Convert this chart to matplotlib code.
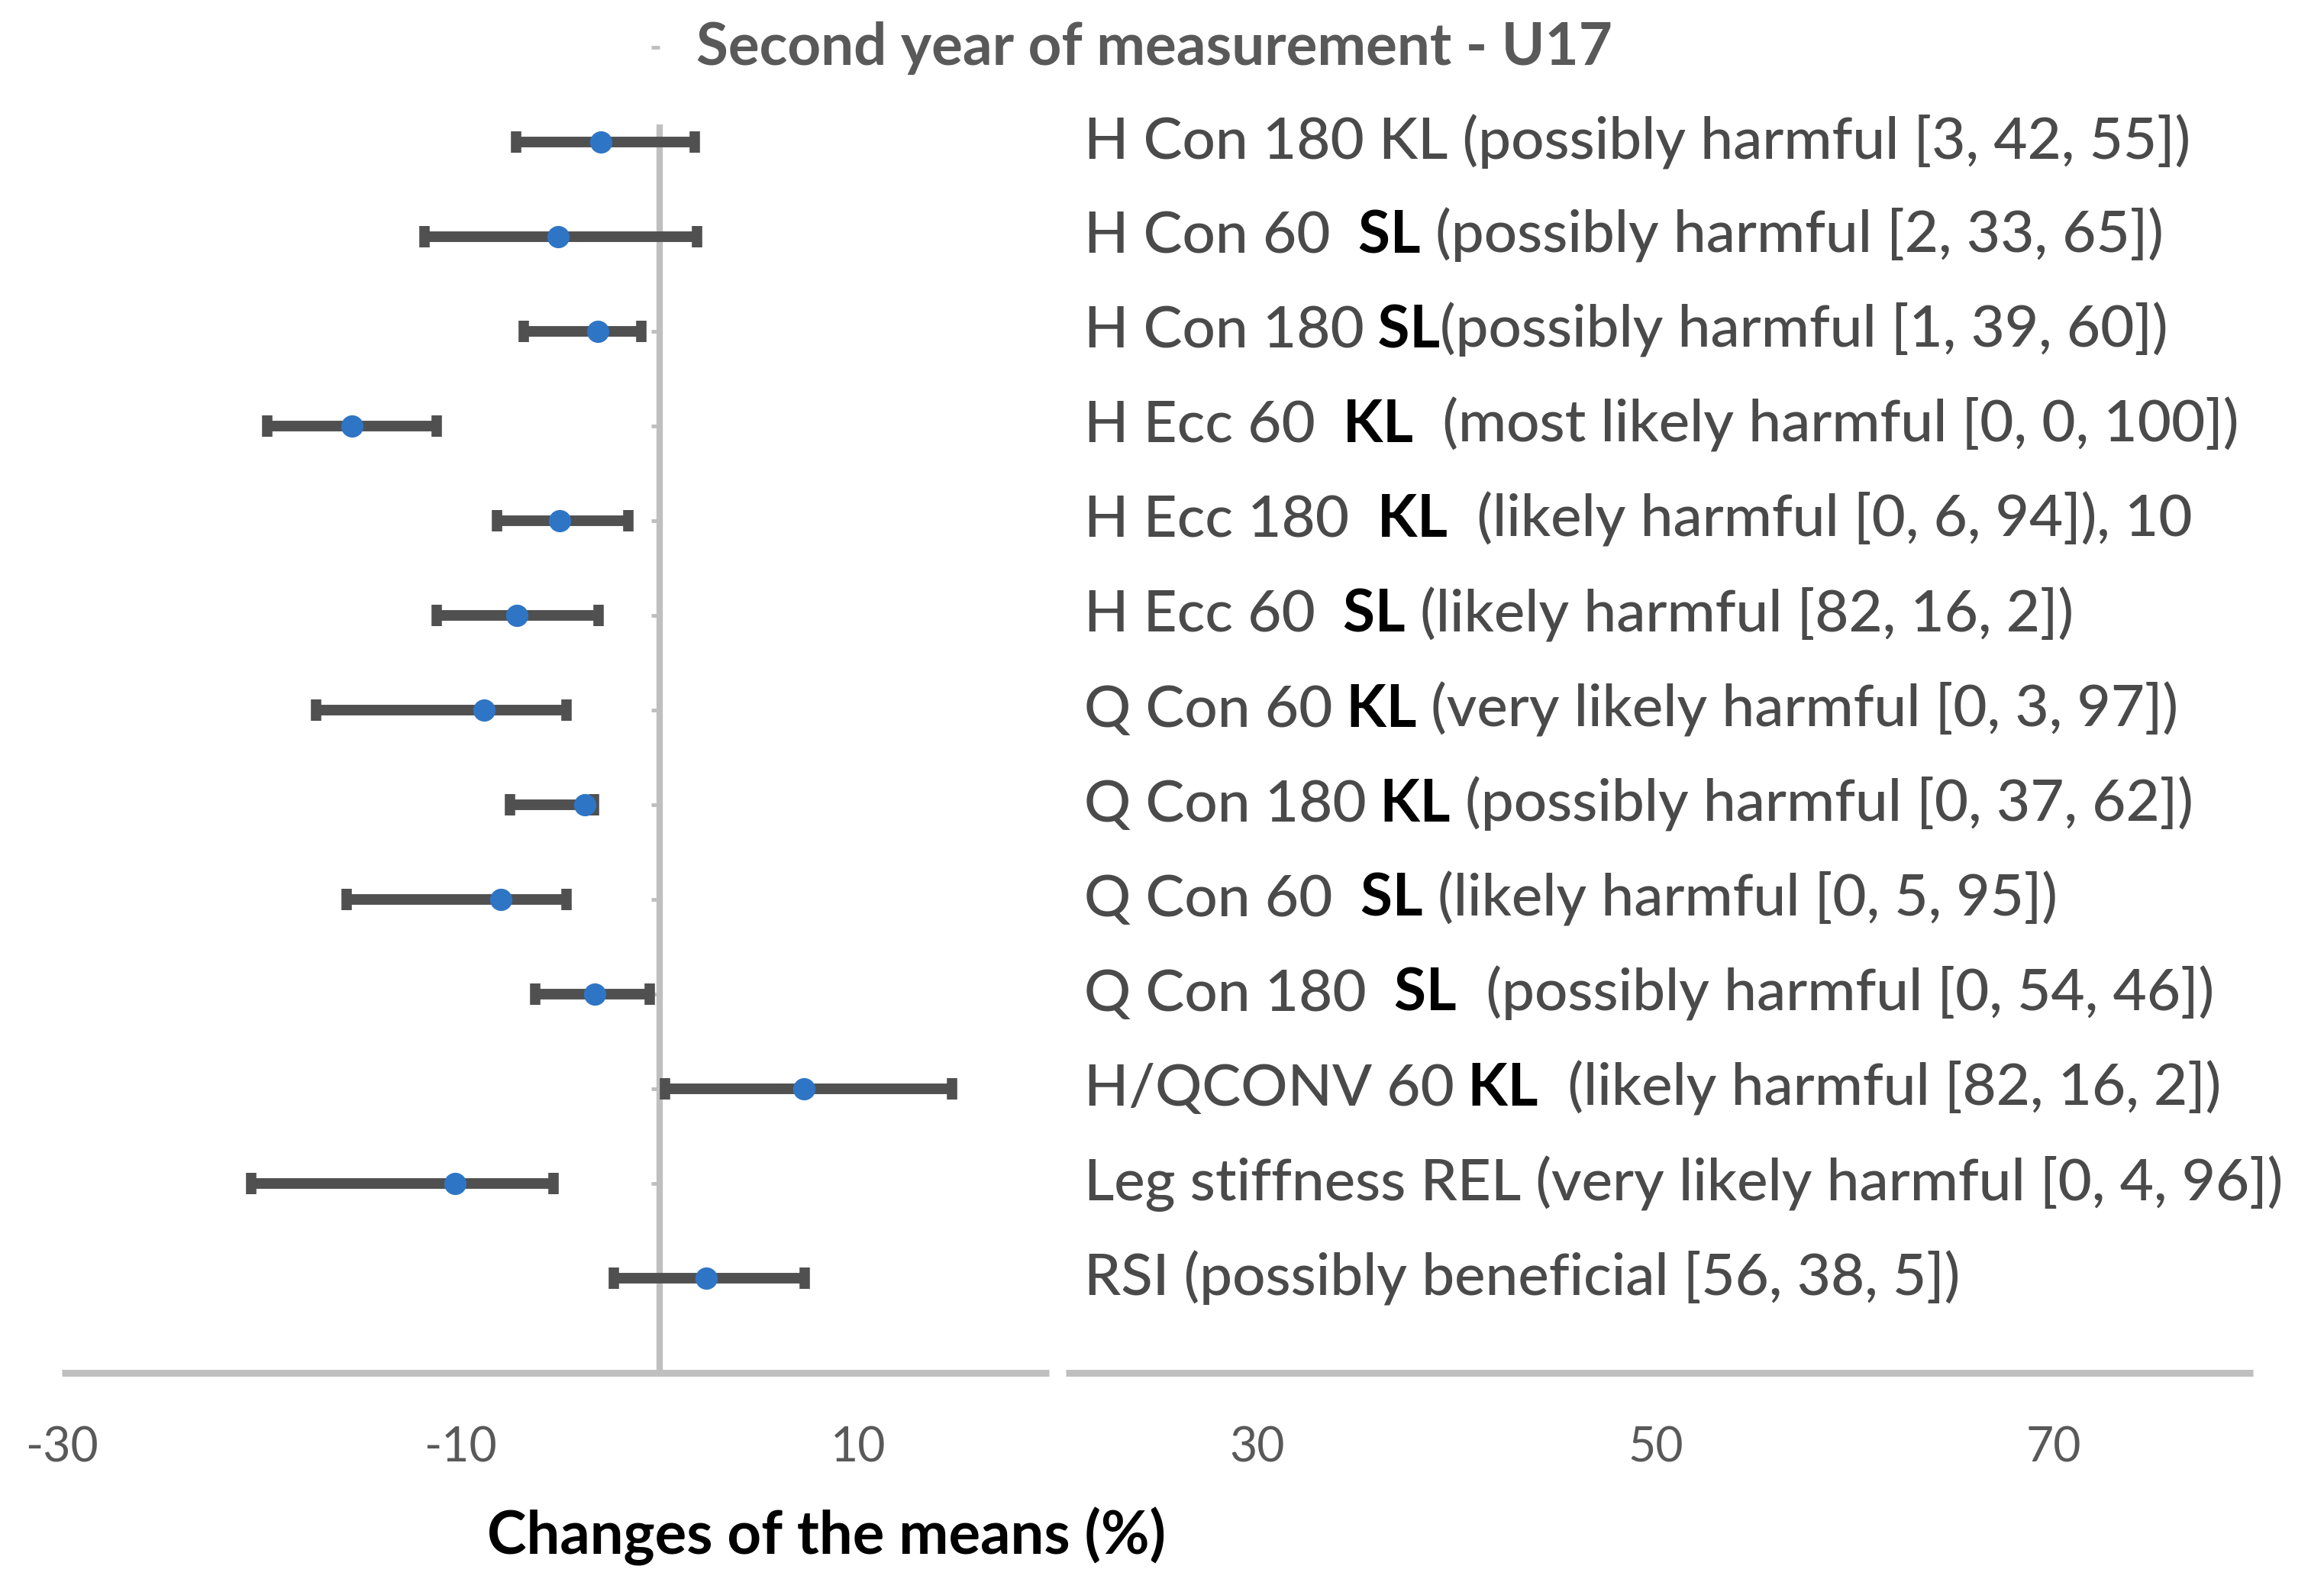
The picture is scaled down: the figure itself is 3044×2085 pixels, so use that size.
import matplotlib
matplotlib.use('Agg')
import matplotlib.pyplot as plt
import numpy as np

# data (changes of the means, %)
means = [-2.95, -5.1, -3.1, -15.45, -5.0, -7.15, -8.8, -3.75, -7.95, -3.25, 7.25, -10.25, 2.35]
ci_low = [-7.2, -11.8, -6.8, -19.7, -8.15, -11.2, -17.25, -7.5, -15.7, -6.25, 0.27, -20.5, -2.3]
ci_high = [1.76, 1.9, -0.9, -11.2, -1.55, -3.05, -4.65, -3.3, -4.65, -0.5, 14.7, -5.3, 7.3]

# labels are split in three parts so the KL / SL part can be bold
label_head = ["H Con 180 KL (possibly harmful [3, 42, 55])",
              "H Con 60", "H Con 180", "H Ecc 60", "H Ecc 180", "H Ecc 60",
              "Q Con 60", "Q Con 180", "Q Con 60", "Q Con 180", "H/QCONV 60",
              "Leg stiffness REL (very likely harmful [0, 4, 96])",
              "RSI (possibly beneficial [56, 38, 5])"]
label_bold = ["", "  SL", " SL", "  KL", "  KL", "  SL", " KL", " KL", "  SL", "  SL", " KL", "", ""]
label_tail = ["",
              " (possibly harmful [2, 33, 65])",
              "(possibly harmful [1, 39, 60])",
              "  (most likely harmful [0, 0, 100])",
              "  (likely harmful [0, 6, 94]), 10",
              " (likely harmful [82, 16, 2])",
              " (very likely harmful [0, 3, 97])",
              " (possibly harmful [0, 37, 62])",
              " (likely harmful [0, 5, 95])",
              "  (possibly harmful [0, 54, 46])",
              "  (likely harmful [82, 16, 2])",
              "", ""]

x_ticks = [-30, -10, 10, 30, 50, 70]

TITLE = "Second year of measurement - U17"
XLABEL = "Changes of the means (%)"

plt.rcParams['font.family'] = ['Lato', 'DejaVu Sans']

AXIS_GREY = '#BFBFBF'
BAR_GREY = '#505050'
TXT_GREY = '#595959'
LBL_GREY = '#4A4A4A'
BLUE = '#2F75C5'
FS = 55

fig = plt.figure(figsize=(30.44, 20.85), dpi=100)
ax = fig.add_axes([0.0266, 0.1376, 0.9429, 0.8327])

n = len(means)
y = np.arange(n, 0, -1)
means = np.array(means)
xerr = [means - np.array(ci_low), np.array(ci_high) - means]

ax.errorbar(means, y, xerr=xerr, fmt='o', color=BLUE, markersize=20,
            ecolor=BAR_GREY, elinewidth=10, capsize=10, capthick=9.8, zorder=3)

ax.set_xlim(-30, 80)
ax.set_ylim(0, 14)

# spines like the excel chart: vertical axis at zero, thick grey bottom line
for s in ['top', 'right']:
    ax.spines[s].set_visible(False)
ax.spines['left'].set_position(('data', 0))
ax.spines['left'].set_bounds(0, 13.15)
ax.spines['left'].set_color(AXIS_GREY)
ax.spines['left'].set_linewidth(6)
ax.spines['bottom'].set_color(AXIS_GREY)
ax.spines['bottom'].set_linewidth(6.5)
ax.spines['bottom'].set_bounds(-30, 19.55)
ax.spines['bottom'].set_capstyle('butt')
ax.hlines(0, 20.4, 80, color=AXIS_GREY, lw=6.5, clip_on=False, zorder=2.5)

ax.set_yticks(np.arange(1, 15))
ax.set_yticklabels([])
ax.tick_params(axis='y', direction='out', length=8, width=3.5, color=AXIS_GREY)

ax.set_xticks(x_ticks)
ax.set_xticklabels([str(t) for t in x_ticks])
ax.tick_params(axis='x', length=0, pad=50, labelsize=45, labelcolor=TXT_GREY)

# row labels, drawn piece by piece
LABEL_X = 21.3
for i in range(n):
    t = ax.text(LABEL_X, y[i], label_head[i], fontsize=FS, color=LBL_GREY,
                fontweight='medium', va='center', ha='left')
    if label_bold[i]:
        t = ax.annotate(label_bold[i], xy=(1, 0), xycoords=t, va='bottom', ha='left',
                        fontsize=FS, fontweight='bold', color='black')
    if label_tail[i]:
        ax.annotate(label_tail[i], xy=(1, 0), xycoords=t, va='bottom', ha='left',
                    fontsize=FS, fontweight='medium', color=LBL_GREY)

fig.text(0.2996, 0.97, TITLE, fontsize=55, fontweight='bold', color=TXT_GREY, va='center', ha='left')
fig.text(0.3555, 0.035, XLABEL, fontsize=56, fontweight='bold', color='black', va='center', ha='center')

fig.savefig('out.png', dpi=100, facecolor='white')
